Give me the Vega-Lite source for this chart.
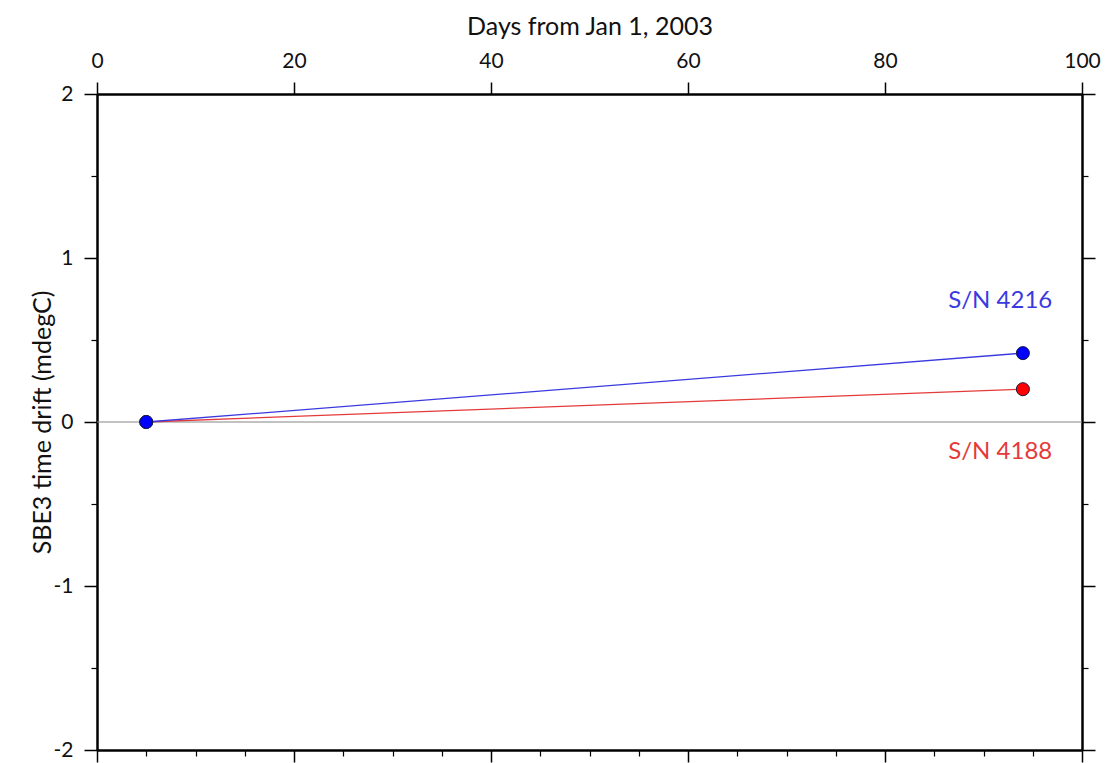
{
  "$schema": "https://vega.github.io/schema/vega-lite/v6.json",
  "width": 985,
  "height": 656,
  "autosize": {"type": "none"},
  "padding": {"left": 97, "top": 94, "right": 23, "bottom": 13},
  "background": "white",
  "config": {
    "view": {"stroke": null},
    "font": "Lato",
    "axis": {
      "domainColor": "black",
      "domainWidth": 2.5,
      "tickColor": "black",
      "grid": false,
      "labelFlush": false,
      "labelOverlap": false,
      "labelFont": "Lato",
      "labelFontSize": 21,
      "labelColor": "#111",
      "titleFont": "Lato",
      "titleFontSize": 25,
      "titleFontWeight": "normal",
      "titleColor": "#111"
    }
  },
  "datasets": {
    "drift": [
      {"series": "S/N 4188", "day": 5, "drift": 0},
      {"series": "S/N 4188", "day": 94, "drift": 0.2},
      {"series": "S/N 4216", "day": 5, "drift": 0},
      {"series": "S/N 4216", "day": 94, "drift": 0.42}
    ],
    "labels": [
      {"series": "S/N 4216", "day": 91.7, "drift": 0.74},
      {"series": "S/N 4188", "day": 91.7, "drift": -0.18}
    ],
    "zero": [{"drift": 0}]
  },
  "resolve": {"axis": {"x": "independent", "y": "independent"}},
  "layer": [
    {
      "data": {"name": "zero"},
      "mark": {"type": "rule", "color": "#858585", "strokeWidth": 1.2},
      "encoding": {
        "y": {
          "field": "drift", "type": "quantitative",
          "scale": {"domain": [-2, 2], "nice": false, "zero": false},
          "axis": {
            "orient": "left", "values": [-2, -1, 0, 1, 2], "tickSize": 13, "tickWidth": 1.5,
            "labelFontSize": 21, "labelPadding": 11, "labelFlush": false, "labelExpr": "toString(datum.value)",
            "title": "SBE3 time drift (mdegC)", "titleFontSize": 25, "titlePadding": -2
          }
        }
      }
    },
    {
      "data": {"name": "drift"},
      "mark": {"type": "line", "strokeWidth": 1.3},
      "encoding": {
        "x": {
          "field": "day", "type": "quantitative",
          "scale": {"domain": [0, 100], "nice": false, "zero": false},
          "axis": {
            "orient": "top", "values": [0, 20, 40, 60, 80, 100], "tickSize": 12, "tickWidth": 1.5,
            "labelFontSize": 21, "labelPadding": 11, "labelFlush": false,
            "title": "Days from Jan 1, 2003", "titleFontSize": 25, "titlePadding": 11
          }
        },
        "y": {
          "field": "drift", "type": "quantitative",
          "scale": {"domain": [-2, 2], "nice": false, "zero": false},
          "axis": {
            "orient": "left", "values": [-1.5, -0.5, 0.5, 1.5], "tickSize": 6, "tickWidth": 1.2,
            "labels": false, "title": null, "domain": false
          }
        },
        "color": {
          "field": "series", "type": "nominal",
          "scale": {"domain": ["S/N 4216", "S/N 4188"], "range": ["#3a3ae0", "#e43a3a"]},
          "legend": null
        },
        "detail": {"field": "series"}
      }
    },
    {
      "data": {"name": "drift"},
      "mark": {"type": "point", "filled": true, "size": 170, "stroke": "#1a1a40", "strokeWidth": 1, "opacity": 1},
      "encoding": {
        "x": {
          "field": "day", "type": "quantitative",
          "scale": {"domain": [0, 100], "nice": false, "zero": false},
          "axis": {
            "orient": "bottom", "values": [0, 20, 40, 60, 80, 100], "tickSize": 12, "tickWidth": 1.5,
            "labels": false, "title": null
          }
        },
        "y": {
          "field": "drift", "type": "quantitative",
          "scale": {"domain": [-2, 2], "nice": false, "zero": false},
          "axis": {
            "orient": "right", "values": [-2, -1, 0, 1, 2], "tickSize": 13, "tickWidth": 1.5,
            "labels": false, "title": null
          }
        },
        "fill": {
          "field": "series", "type": "nominal",
          "scale": {"domain": ["S/N 4216", "S/N 4188"], "range": ["#0000ff", "#ff0000"]},
          "legend": null
        },
        "order": {"field": "drift", "sort": "descending"}
      }
    },
    {
      "data": {"name": "labels"},
      "mark": {"type": "text", "font": "Lato", "fontSize": 24, "align": "center", "baseline": "middle"},
      "encoding": {
        "x": {
          "field": "day", "type": "quantitative",
          "scale": {"domain": [0, 100], "nice": false, "zero": false},
          "axis": {
            "orient": "bottom", "values": [5, 10, 15, 25, 30, 35, 45, 50, 55, 65, 70, 75, 85, 90, 95],
            "tickSize": 6, "tickWidth": 1.2, "labels": false, "title": null, "domain": false
          }
        },
        "y": {
          "field": "drift", "type": "quantitative",
          "scale": {"domain": [-2, 2], "nice": false, "zero": false},
          "axis": {
            "orient": "right", "values": [-1.5, -0.5, 0.5, 1.5], "tickSize": 6, "tickWidth": 1.2,
            "labels": false, "title": null, "domain": false
          }
        },
        "text": {"field": "series"},
        "color": {
          "field": "series", "type": "nominal",
          "scale": {"domain": ["S/N 4216", "S/N 4188"], "range": ["#2a2ad8", "#e02a2a"]},
          "legend": null
        }
      }
    }
  ]
}
